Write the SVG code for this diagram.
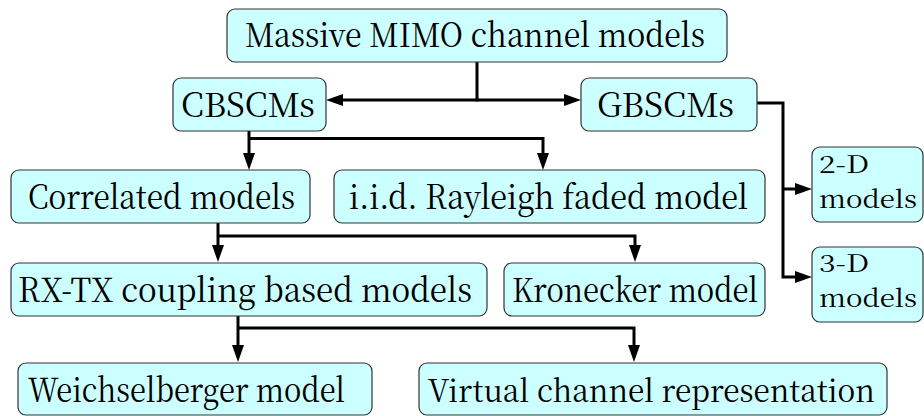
<svg xmlns="http://www.w3.org/2000/svg" width="924" height="416" viewBox="0 0 924 416">
  <style>
    .box { fill: #ccffff; stroke: #333333; stroke-width: 1.2; }
    .wire { fill: none; stroke: #000000; stroke-width: 3; stroke-linejoin: miter; stroke-linecap: butt; }
    .lbl { font-family: "Noto Serif CJK SC", "Liberation Serif", serif; font-size: 33.5px; fill: #000000; }
    .lbl2 { font-family: "Noto Serif CJK SC", "Liberation Serif", serif; font-size: 24px; fill: #000000; }
  </style>
  <defs>
    <marker id="head" markerUnits="userSpaceOnUse" markerWidth="17" markerHeight="12" refX="9" refY="6" orient="auto">
      <path d="M0,0 L17,6 L0,12 Z" fill="#000000"/>
    </marker>
  </defs>
  <rect width="924" height="416" fill="#ffffff"/>

  <!-- connectors -->
  <g id="connectors">
    <!-- root to the two families -->
    <path class="wire" d="M477,62 V100"/>
    <path class="wire" d="M478.5,100 H334" marker-end="url(#head)"/>
    <path class="wire" d="M475.5,100 H573" marker-end="url(#head)"/>
    <!-- CBSCMs branches -->
    <path class="wire" d="M249,131 V162" marker-end="url(#head)"/>
    <path class="wire" d="M249,138.5 H543 V162" marker-end="url(#head)"/>
    <!-- correlated models branches -->
    <path class="wire" d="M218,223 V254" marker-end="url(#head)"/>
    <path class="wire" d="M218,236 H635 V254" marker-end="url(#head)"/>
    <!-- coupling based branches -->
    <path class="wire" d="M238,316 V354" marker-end="url(#head)"/>
    <path class="wire" d="M238,328 H634 V354" marker-end="url(#head)"/>
    <!-- GBSCMs branches -->
    <path class="wire" d="M757,103 H783 V277 H804" marker-end="url(#head)"/>
    <path class="wire" d="M783,189 H804" marker-end="url(#head)"/>
  </g>

  <g id="root">
    <rect class="box" x="227" y="9" width="500" height="53" rx="8"/>
    <text class="lbl" x="245" y="47" textLength="460" lengthAdjust="spacingAndGlyphs">Massive MIMO channel models</text>
  </g>

  <g id="cbscms">
    <rect class="box" x="173" y="78" width="153" height="53" rx="8"/>
    <text class="lbl" x="181" y="117" textLength="134" lengthAdjust="spacingAndGlyphs">CBSCMs</text>
  </g>

  <g id="gbscms">
    <rect class="box" x="581" y="78" width="176" height="53" rx="8"/>
    <text class="lbl" x="597" y="117" textLength="137" lengthAdjust="spacingAndGlyphs">GBSCMs</text>
  </g>

  <g id="correlated">
    <rect class="box" x="11" y="170" width="299" height="53" rx="8"/>
    <text class="lbl" x="28" y="209" textLength="267" lengthAdjust="spacingAndGlyphs">Correlated models</text>
  </g>

  <g id="iid">
    <rect class="box" x="334" y="170" width="431" height="53" rx="8"/>
    <text class="lbl" x="349" y="209" textLength="399" lengthAdjust="spacingAndGlyphs">i.i.d. Rayleigh faded model</text>
  </g>

  <g id="coupling">
    <rect class="box" x="11" y="263" width="476" height="53" rx="8"/>
    <text class="lbl" x="18" y="302" textLength="454" lengthAdjust="spacingAndGlyphs">RX-TX coupling based models</text>
  </g>

  <g id="kronecker">
    <rect class="box" x="504" y="263" width="261" height="53" rx="8"/>
    <text class="lbl" x="512" y="302" textLength="246" lengthAdjust="spacingAndGlyphs">Kronecker model</text>
  </g>

  <g id="weichselberger">
    <rect class="box" x="18" y="363" width="354" height="52" rx="8"/>
    <text class="lbl" x="28" y="402" textLength="317" lengthAdjust="spacingAndGlyphs">Weichselberger model</text>
  </g>

  <g id="virtual">
    <rect class="box" x="419" y="363" width="468" height="52" rx="8"/>
    <text class="lbl" x="428" y="402" style="font-size:31px" textLength="447" lengthAdjust="spacingAndGlyphs">Virtual channel representation</text>
  </g>

  <g id="models2d">
    <rect class="box" x="812" y="147" width="111" height="75" rx="8"/>
    <text class="lbl2" x="819" y="173" textLength="50" lengthAdjust="spacingAndGlyphs">2-D</text>
    <text class="lbl2" x="819" y="208" textLength="98" lengthAdjust="spacingAndGlyphs">models</text>
  </g>

  <g id="models3d">
    <rect class="box" x="812" y="247" width="111" height="75" rx="8"/>
    <text class="lbl2" x="819" y="272" textLength="50" lengthAdjust="spacingAndGlyphs">3-D</text>
    <text class="lbl2" x="819" y="307" textLength="98" lengthAdjust="spacingAndGlyphs">models</text>
  </g>
</svg>
